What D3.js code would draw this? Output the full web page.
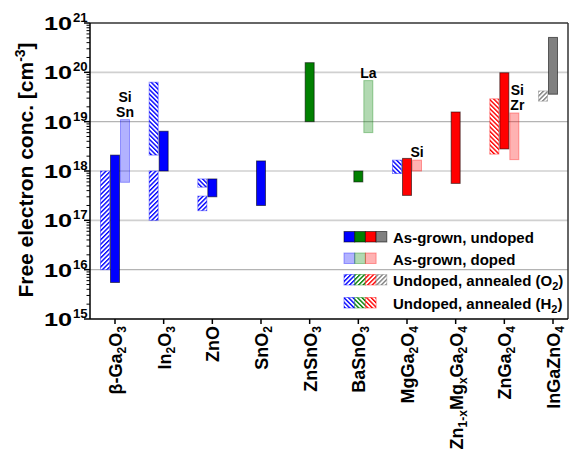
<!DOCTYPE html>
<html>
<head>
<meta charset="utf-8">
<script src="https://cdn.jsdelivr.net/npm/d3@7"></script>
<style>
html,body{margin:0;padding:0;background:#fff;}
svg text{font-family:"Liberation Sans",Arial,Helvetica,sans-serif;font-weight:bold;fill:#000;}
</style>
</head>
<body>
<svg id="chart" width="569" height="451"></svg>
<script>
// ---------- data ----------
const categories = ["β-Ga_{2}O_{3}","In_{2}O_{3}","ZnO","SnO_{2}","ZnSnO_{3}","BaSnO_{3}",
  "MgGa_{2}O_{4}","Zn_{1-x}Mg_{x}Ga_{2}O_{4}","ZnGa_{2}O_{4}","InGaZnO_{4}"];
const family = ["binary","binary","binary","binary","stannate","stannate","gallate","gallate","gallate","igzo"];
// as-grown, undoped  [low, high] (cm^-3)
const undopedLow  = [5.5e15, 1.0e18, 3.0e17, 2.0e17, 1.0e19, 6.0e17, 3.2e17, 5.6e17, 2.8e18, 3.6e19];
const undopedHigh = [2.1e18, 6.4e18, 6.9e17, 1.6e18, 1.57e20, 1.0e18, 1.8e18, 1.57e19, 9.8e19, 5.1e20];
// as-grown, doped
const dopedCat  = [0, 5, 6, 8];
const dopedLow  = [5.9e17, 6.0e18, 1.0e18, 1.7e18];
const dopedHigh = [1.1e19, 6.8e19, 1.66e18, 1.5e19];
const dopants   = [["Si","Sn"], ["La"], ["Si"], ["Si","Zr"]];
// undoped, annealed in O2
const o2Cat  = [0, 1, 2, 9];
const o2Low  = [1.0e16, 1.0e17, 1.57e17, 2.6e19];
const o2High = [1.0e18, 1.0e18, 3.1e17, 4.2e19];
const o2Family = ["binary","binary","binary","igzo"];
// undoped, annealed in H2
const h2Cat  = [1, 2, 6, 8];
const h2Low  = [2.1e18, 4.7e17, 8.9e17, 2.2e18];
const h2High = [6.3e19, 6.9e17, 1.66e18, 2.9e19];
const h2Family = ["binary","binary","binary","gallate"];
const yTicks = [1e15,1e16,1e17,1e18,1e19,1e20,1e21];
const legendRows = ["As-grown, undoped","As-grown, doped","Undoped, annealed (O_{2})","Undoped, annealed (H_{2})"];

(function(){
// ---------- styles ----------
const famColor = {binary:"#0000ff", stannate:"#008000", gallate:"#ff0000", igzo:"#808080"};
const pL=90, pR=568, pT=23, pB=319;
const svg = d3.select("#chart");
const y = d3.scaleLog().domain([1e15,1e21]).range([pB, pT]);
const x = d3.scaleLinear().domain([0,9]).range([115,553]);
const slot = 10, bw = 9;

function parseRich(s){
  const out=[]; const re=/_\{([^}]*)\}/g; let last=0,m;
  while((m=re.exec(s))){ if(m.index>last) out.push({t:s.slice(last,m.index),sub:false}); out.push({t:m[1],sub:true}); last=re.lastIndex; }
  if(last<s.length) out.push({t:s.slice(last),sub:false});
  return out;
}
function richText(sel, s, subSize, shift){
  let cur=0;
  parseRich(s).forEach(p=>{
    const target = p.sub ? shift : 0;
    sel.append("tspan").attr("dy", target-cur).attr("font-size", p.sub?subSize:null).text(p.t);
    cur = target;
  });
}

// patterns
const defs = svg.append("defs");
Object.entries(famColor).forEach(([k,c])=>{
  [["o2",45],["h2",-45]].forEach(([n,ang])=>{
    const p = defs.append("pattern").attr("id",`hatch-${n}-${k}`).attr("patternUnits","userSpaceOnUse")
      .attr("width",3.2).attr("height",3.2).attr("patternTransform",`rotate(${ang})`);
    p.append("rect").attr("width",3.2).attr("height",3.2).attr("fill","#fff");
    p.append("rect").attr("width",1.4).attr("height",3.2).attr("fill",c);
  });
});

// gridlines
svg.append("g").selectAll("line").data(yTicks.slice(1,-1)).join("line")
  .attr("x1",pL).attr("x2",pR).attr("y1",d=>y(d)).attr("y2",d=>y(d))
  .attr("stroke",(d,i)=> (i===0||i===3) ? "#b4b4b4" : "#d0d0d0").attr("stroke-width",(d,i)=> (i===0||i===3)?1.2:1.6);

// frame top / right
svg.append("line").attr("x1",pL).attr("x2",pR).attr("y1",pT).attr("y2",pT).attr("stroke","#333").attr("stroke-width",1.5);
svg.append("line").attr("x1",pR).attr("x2",pR).attr("y1",pT).attr("y2",pB).attr("stroke","#333").attr("stroke-width",1.5);

function bar(g, cat, off, lo, hi){
  return g.append("rect").attr("x", x(cat)+off*slot-bw/2).attr("width",bw)
    .attr("y", y(hi)).attr("height", y(lo)-y(hi));
}
const gBars = svg.append("g");
o2Cat.forEach((c,i)=>{
  bar(gBars,c,-1,o2Low[i],o2High[i]).attr("fill",`url(#hatch-o2-${o2Family[i]})`)
    .attr("stroke",famColor[o2Family[i]]).attr("stroke-opacity",0.4).attr("stroke-width",1);
});
h2Cat.forEach((c,i)=>{
  bar(gBars,c,-1,h2Low[i],h2High[i]).attr("fill",`url(#hatch-h2-${h2Family[i]})`)
    .attr("stroke",famColor[h2Family[i]]).attr("stroke-opacity",0.4).attr("stroke-width",1);
});
dopedCat.forEach((c,i)=>{
  const col = famColor[family[c]];
  bar(gBars,c,1,dopedLow[i],dopedHigh[i]).attr("fill",col).attr("fill-opacity",0.3)
    .attr("stroke",col).attr("stroke-opacity",0.35).attr("stroke-width",1);
  const n = dopants[i].length;
  dopants[i].forEach((d,j)=>{
    svg.append("text").attr("text-anchor","middle").attr("font-size",14)
      .attr("x", x(c)+slot+(c===8?3:0)).attr("y", y(dopedHigh[i]) - 3 - (n-1-j)*15).text(d);
  });
});
categories.forEach((c,i)=>{
  bar(gBars,i,0,undopedLow[i],undopedHigh[i]).attr("fill",famColor[family[i]])
    .attr("stroke","#000").attr("stroke-opacity",0.55).attr("stroke-width",1);
});

// axes
svg.append("line").attr("x1",pL).attr("x2",pL).attr("y1",pT).attr("y2",pB).attr("stroke","#000").attr("stroke-width",1.5);
svg.append("line").attr("x1",pL).attr("x2",pR).attr("y1",pB).attr("y2",pB).attr("stroke","#000").attr("stroke-width",1.5);
const minor=[];
for(let k=15;k<21;k++) for(let m=2;m<10;m++) minor.push(m*Math.pow(10,k));
svg.append("g").selectAll("line").data(minor).join("line")
  .attr("x1",pL-3.5).attr("x2",pL).attr("y1",d=>y(d)).attr("y2",d=>y(d)).attr("stroke","#000").attr("stroke-width",1);
svg.append("g").selectAll("line").data(yTicks).join("line")
  .attr("x1",pL-6).attr("x2",pL).attr("y1",d=>y(d)).attr("y2",d=>y(d)).attr("stroke","#000").attr("stroke-width",1.5);
yTicks.forEach(d=>{
  const yy=y(d);
  svg.append("text").attr("transform",`translate(72,${yy+7}) scale(1.33,1)`).attr("text-anchor","end")
    .attr("font-size",19).text("10");
  svg.append("text").attr("transform",`translate(73,${yy-1}) scale(1.1,1)`).attr("font-size",12)
    .text(String(Math.round(Math.log10(d))));
});
categories.forEach((c,i)=>{
  svg.append("line").attr("x1",x(i)).attr("x2",x(i)).attr("y1",pB).attr("y2",pB+5).attr("stroke","#000").attr("stroke-width",1.5);
  const t = svg.append("text").attr("transform",`translate(${x(i)+7},326) rotate(-90)`)
    .attr("text-anchor","end").attr("font-size",18);
  richText(t, c, 12, 4);
});
const yt = svg.append("text").attr("transform","translate(33,170) rotate(-90)").attr("text-anchor","middle").attr("font-size",21);
yt.append("tspan").text("Free electron conc. [cm");
yt.append("tspan").attr("font-size",14).attr("dy",-8).text("-3");
yt.append("tspan").attr("dy",8).text("]");

// legend
const sw=10.7, sh=10.5, lx=344, lt=393;
const baselines=[243,264.5,286,309];
const rowFams=[["binary","stannate","gallate","igzo"],["binary","stannate","gallate"],["binary","stannate","gallate","igzo"],["binary","stannate","gallate"]];
legendRows.forEach((r,ri)=>{
  rowFams[ri].forEach((f,j)=>{
    const rc = svg.append("rect").attr("x",lx+j*sw).attr("y",baselines[ri]-11.5).attr("width",sw).attr("height",sh);
    const col=famColor[f];
    if(ri===0) rc.attr("fill",col).attr("stroke","#000").attr("stroke-opacity",0.55).attr("stroke-width",1);
    else if(ri===1) rc.attr("fill",col).attr("fill-opacity",0.3).attr("stroke",col).attr("stroke-opacity",0.35);
    else rc.attr("fill",`url(#hatch-${ri===2?"o2":"h2"}-${f})`).attr("stroke",col).attr("stroke-opacity",0.4);
  });
  const t = svg.append("text").attr("x",lt).attr("y",baselines[ri]).attr("font-size",15);
  richText(t, r, 11, 4);
});
})();
</script>
</body>
</html>
